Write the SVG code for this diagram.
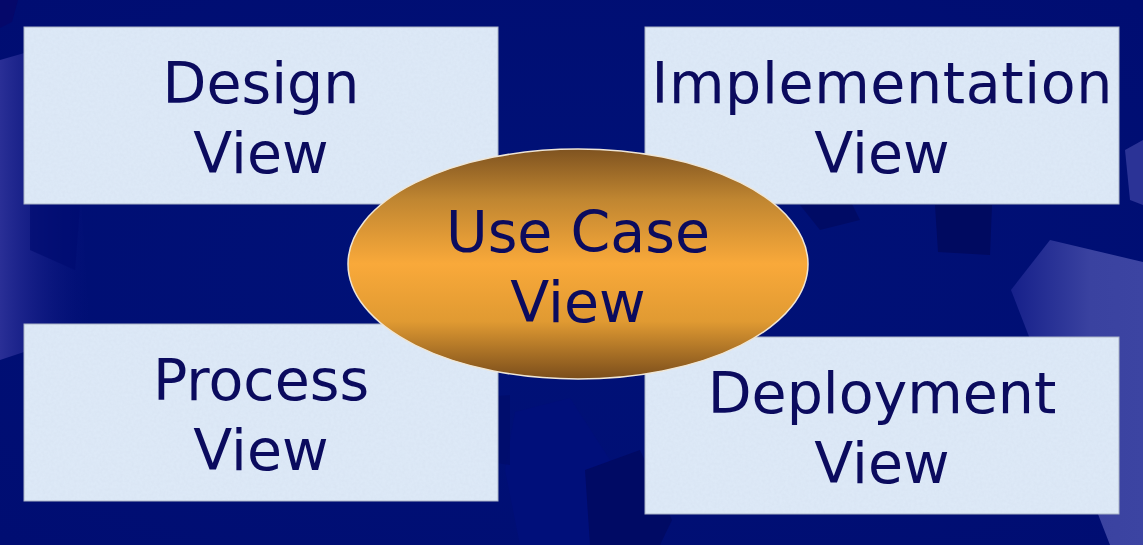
<svg xmlns="http://www.w3.org/2000/svg" width="1143" height="545" viewBox="0 0 1143 545">
  <defs>
    <style>
      .box { fill: #dde9f7; stroke: #a9b3c6; stroke-width: 1; }
      .lbl { font-family: "DejaVu Sans", Verdana, sans-serif; font-size: 57px; fill: #0b0b5e; text-anchor: middle; }
    </style>
    <linearGradient id="ell" x1="0" y1="0" x2="0" y2="1">
      <stop offset="0" stop-color="#7f5320"/>
      <stop offset="0.22" stop-color="#c08631"/>
      <stop offset="0.5" stop-color="#f9a93a"/>
      <stop offset="0.75" stop-color="#e09a32"/>
      <stop offset="1" stop-color="#7a4d1b"/>
    </linearGradient>
    <linearGradient id="edgeL" x1="0" y1="0" x2="1" y2="0">
      <stop offset="0" stop-color="#2a2f96"/>
      <stop offset="1" stop-color="#0a1480" stop-opacity="0"/>
    </linearGradient>
    <linearGradient id="edgeR" x1="0" y1="0" x2="1" y2="0">
      <stop offset="0" stop-color="#16208a"/>
      <stop offset="0.6" stop-color="#3a42a0"/>
      <stop offset="1" stop-color="#3c44a2"/>
    </linearGradient>
    <radialGradient id="bg" cx="0.5" cy="0.5" r="0.7">
      <stop offset="0" stop-color="#001278"/>
      <stop offset="1" stop-color="#000d72"/>
    </radialGradient>
    <filter id="grain" x="0" y="0" width="100%" height="100%">
      <feTurbulence type="fractalNoise" baseFrequency="0.35" numOctaves="2" seed="3" result="n"/>
      <feColorMatrix in="n" type="matrix" values="0 0 0 0 0.6  0 0 0 0 0.67  0 0 0 0 0.8  0 0 0 0.55 -0.14"/>
      <feComposite in2="SourceGraphic" operator="in"/>
    </filter>
  </defs>

  <!-- background -->
  <rect x="0" y="0" width="1143" height="545" fill="url(#bg)"/>
  <g id="decor">
    <polygon points="0,0 18,0 12,22 0,28" fill="#05086a"/>
    <polygon points="0,60 70,40 90,330 0,360" fill="url(#edgeL)"/>
    <polygon points="30,150 85,140 75,270 30,250" fill="#000c70" opacity="0.7"/>
    <polygon points="1011,290 1050,240 1143,262 1143,545 1110,545" fill="url(#edgeR)"/>
    <polygon points="1125,150 1143,140 1143,205 1130,200" fill="#2b3396"/>
    <polygon points="935,205 992,205 990,255 938,252" fill="#000a60"/>
    <polygon points="515,412 570,398 610,460 595,545 520,545 505,470" fill="#000f7a"/>
    <polygon points="585,470 640,450 672,520 660,545 590,545" fill="#000a64"/>
    <polygon points="445,400 510,395 510,465 445,455" fill="#000c6c" opacity="0.8"/>
    <polygon points="800,205 850,200 860,220 820,230" fill="#000a62" opacity="0.8"/>
  </g>

  <g id="connectors"/>

  <g id="design">
    <rect class="box" x="24" y="27" width="474" height="177"/>
    <rect x="24.5" y="27.5" width="473" height="176" fill="#fff" filter="url(#grain)" opacity="0.6"/>
    <text class="lbl" x="261" y="103">Design</text>
    <text class="lbl" x="261" y="173">View</text>
  </g>

  <g id="implementation">
    <rect class="box" x="645" y="27" width="474" height="177"/>
    <rect x="645.5" y="27.5" width="473" height="176" fill="#fff" filter="url(#grain)" opacity="0.6"/>
    <text class="lbl" x="882" y="103" textLength="461" lengthAdjust="spacing">Implementation</text>
    <text class="lbl" x="882" y="173">View</text>
  </g>

  <g id="process">
    <rect class="box" x="24" y="324" width="474" height="177"/>
    <rect x="24.5" y="324.5" width="473" height="176" fill="#fff" filter="url(#grain)" opacity="0.6"/>
    <text class="lbl" x="261" y="400">Process</text>
    <text class="lbl" x="261" y="470">View</text>
  </g>

  <g id="deployment">
    <rect class="box" x="645" y="337" width="474" height="177"/>
    <rect x="645.5" y="337.5" width="473" height="176" fill="#fff" filter="url(#grain)" opacity="0.6"/>
    <text class="lbl" x="882" y="413">Deployment</text>
    <text class="lbl" x="882" y="483">View</text>
  </g>

  <g id="usecase">
    <ellipse cx="578" cy="264" rx="230" ry="115" fill="url(#ell)" stroke="#efe6d6" stroke-width="1.5"/>
    <text class="lbl" x="578" y="252">Use Case</text>
    <text class="lbl" x="578" y="322">View</text>
  </g>
</svg>
